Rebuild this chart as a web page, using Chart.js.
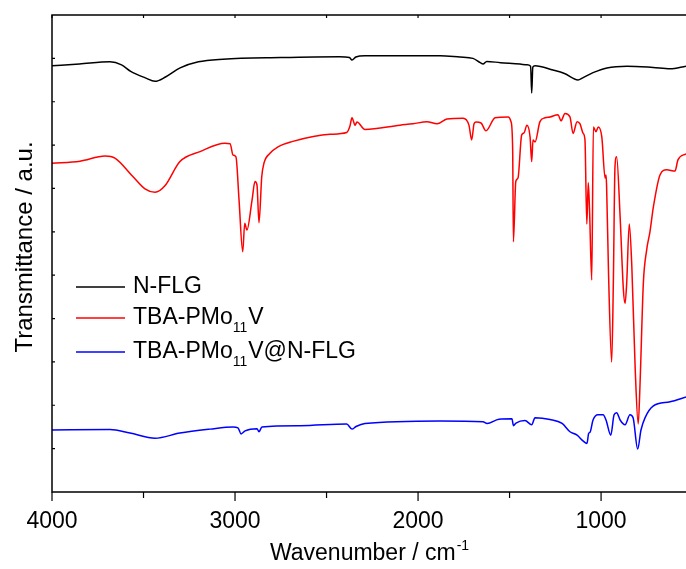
<!DOCTYPE html>
<html>
<head>
<meta charset="utf-8">
<script src="https://cdn.jsdelivr.net/npm/chart.js@4.4.1/dist/chart.umd.min.js"></script>
<style>
  body { margin: 0; background: #fff; }
  canvas { display: block; }
</style>
</head>
<body>
<canvas id="ftirChart" width="686" height="569"></canvas>
<script>
// Wavenumber (cm-1) and transmittance (a.u., offset stacked)
const nflgWn = [4000, 3850, 3683, 3620, 3570, 3490, 3437, 3380, 3300, 3200, 3066, 2750, 2430, 2375, 2361, 2340, 2290,
  1880, 1771, 1700, 1660, 1645, 1625, 1550, 1443, 1405, 1385, 1379, 1373, 1361, 1263, 1200, 1126, 1100, 1044, 968, 858, 716, 623, 536];
const nflgT = [98.3, 98.7, 99.2, 98.5, 97.0, 95.5, 94.7, 95.7, 97.8, 99.2, 99.8, 100.2, 100.4, 100.2, 99.6, 100.3, 100.6,
  100.6, 100.3, 100.0, 99.0, 98.7, 99.3, 99.0, 98.7, 98.5, 98.2, 92.0, 98.0, 98.3, 97.3, 96.5, 95.0, 95.5, 96.7, 97.8, 98.2, 97.9, 97.6, 98.2];

const tbaWn = [4000, 3847, 3710, 3656, 3557, 3492, 3437, 3383, 3301, 3191, 3055, 3027, 3011, 2995, 2978, 2958, 2947, 2935,
  2907, 2891, 2880, 2869, 2854, 2842, 2809, 2765, 2689, 2481, 2390, 2372, 2361, 2344, 2334, 2290, 2099, 2028, 1951, 1896,
  1842, 1754, 1722, 1707, 1694, 1683, 1656, 1629, 1579, 1508, 1492, 1483, 1479, 1466, 1454, 1434, 1421, 1405, 1388, 1379,
  1372, 1361, 1334, 1306, 1279, 1235, 1219, 1197, 1170, 1153, 1131, 1115, 1098, 1088, 1078, 1070, 1063, 1051, 1042, 1028,
  1015, 996, 978, 973, 970, 959, 942, 933, 924, 915, 896, 878, 869, 860, 846, 832, 814, 797, 787, 769, 751, 733, 714, 678,
  641, 596, 580, 536];
const tbaT = [75.8, 76.3, 77.5, 77.0, 72.7, 69.9, 69.1, 70.6, 76.2, 78.5, 80.4, 80.3, 77.7, 77.3, 67.3, 55.4, 62.0, 60.4,
  67.3, 71.6, 70.8, 62.1, 72.7, 75.8, 78.1, 79.6, 80.8, 82.5, 82.9, 84.4, 86.3, 84.6, 85.3, 83.6, 84.6, 84.9, 85.4, 84.9,
  86.0, 86.2, 84.6, 81.2, 84.9, 85.3, 85.1, 83.3, 86.3, 86.5, 85.4, 78.9, 57.7, 71.6, 72.4, 82.3, 82.8, 84.6, 81.9, 76.2,
  81.2, 80.7, 85.4, 86.3, 86.5, 87.0, 85.6, 87.3, 86.5, 82.7, 85.4, 84.9, 82.7, 81.2, 61.8, 71.3, 65.0, 48.9, 84.2, 83.1,
  84.2, 81.9, 72.4, 73.1, 70.8, 50.0, 30.0, 48.2, 75.0, 77.3, 63.5, 46.6, 43.5, 48.2, 61.8, 52.0, 28.9, 15.7, 25.1, 48.2,
  55.8, 60.0, 65.8, 73.1, 74.3, 74.0, 76.6, 78.0];

const hybWn = [4000, 3683, 3574, 3437, 3301, 3137, 3011, 2984, 2967, 2945, 2880, 2869, 2853, 2645, 2390, 2361, 2339, 2290,
  1880, 1645, 1623, 1558, 1487, 1479, 1465, 1416, 1379, 1361, 1279, 1213, 1170, 1131, 1099, 1077, 1068, 1060, 1044, 1017,
  989, 973, 947, 929, 915, 896, 869, 842, 825, 800, 782, 760, 716, 623, 536];
const hybT = [14.3, 14.4, 13.6, 12.4, 13.6, 14.5, 15.0, 14.8, 13.4, 14.1, 14.6, 13.9, 15.0, 15.3, 15.7, 14.5, 15.1, 15.8,
  16.4, 16.2, 15.8, 16.8, 16.9, 15.3, 15.9, 16.5, 15.5, 17.1, 16.7, 15.8, 13.9, 13.1, 11.8, 11.2, 13.5, 13.8, 16.6, 17.8,
  17.8, 16.6, 13.1, 17.8, 18.3, 16.6, 15.5, 17.8, 17.1, 9.9, 14.3, 17.1, 19.8, 20.8, 21.9];

const xTicks = [4000, 3500, 3000, 2500, 2000, 1500, 1000];
const yTicks = [10, 20, 30, 40, 50, 60, 70, 80, 90, 100];

const FONT = "'Liberation Sans', Arial, sans-serif";

function toPoints(wn, t) {
  return wn.map((w, i) => ({ x: w, y: t[i] }));
}

const legendRows = [
  { color: '#000000', parts: [['N-FLG', 0]] },
  { color: '#ff0000', parts: [['TBA-PMo', 0], ['11', 1], ['V', 0]] },
  { color: '#0000ff', parts: [['TBA-PMo', 0], ['11', 1], ['V@N-FLG', 0]] }
];

// frame, ticks, axis titles and legend
const decor = {
  id: 'decor',
  afterDraw(chart) {
    const { ctx, chartArea: a, scales: { x, y } } = chart;
    ctx.save();
    ctx.strokeStyle = '#000';
    ctx.lineWidth = 1.5;
    ctx.beginPath();
    ctx.moveTo(a.right + 2, a.top);
    ctx.lineTo(a.left, a.top);
    ctx.lineTo(a.left, a.bottom);
    ctx.lineTo(a.right + 2, a.bottom);
    ctx.stroke();

    ctx.lineWidth = 1.2;
    ctx.beginPath();
    xTicks.forEach(v => {
      const px = x.getPixelForValue(v);
      const len = v % 1000 === 0 ? 9 : 6;
      ctx.moveTo(px, a.bottom);
      ctx.lineTo(px, a.bottom + len);
      ctx.moveTo(px, a.top);
      ctx.lineTo(px, a.top + 3);
    });
    yTicks.forEach(v => {
      const py = y.getPixelForValue(v);
      ctx.moveTo(a.left, py);
      ctx.lineTo(a.left + 3, py);
    });
    ctx.stroke();

    ctx.fillStyle = '#000';
    // x title with superscript
    ctx.font = '23px ' + FONT;
    ctx.textBaseline = 'middle';
    const main = 'Wavenumber / cm';
    const mw = ctx.measureText(main).width;
    ctx.font = '14px ' + FONT;
    const sw = ctx.measureText('-1').width;
    let tx = (a.left + a.right) / 2 - (mw + sw) / 2;
    ctx.font = '23px ' + FONT;
    ctx.textAlign = 'left';
    ctx.fillText(main, tx, 554);
    ctx.font = '14px ' + FONT;
    ctx.fillText('-1', tx + mw + 1, 546);

    // y title
    ctx.save();
    ctx.translate(25, 247);
    ctx.rotate(-Math.PI / 2);
    ctx.font = '24px ' + FONT;
    ctx.textAlign = 'center';
    ctx.fillText('Transmittance / a.u.', 0, 0);
    ctx.restore();

    // legend
    const rowY = [287, 318, 352];
    legendRows.forEach((row, i) => {
      const ly = rowY[i];
      ctx.strokeStyle = row.color;
      ctx.lineWidth = 1.5;
      ctx.beginPath();
      ctx.moveTo(76, ly);
      ctx.lineTo(125, ly);
      ctx.stroke();
      let cx = 133;
      row.parts.forEach(([txt, sub]) => {
        ctx.font = (sub ? '14px ' : '23px ') + FONT;
        ctx.fillText(txt, cx, sub ? ly + 10 : ly);
        cx += ctx.measureText(txt).width + (sub ? 1 : 0);
      });
    });
    ctx.restore();
  }
};

const ctx = document.getElementById('ftirChart').getContext('2d');

const ftirChart = new Chart(ctx, {
  type: 'line',
  data: {
    datasets: [
      { label: 'N-FLG', data: toPoints(nflgWn, nflgT), borderColor: '#000000' },
      { label: 'TBA-PMo11V', data: toPoints(tbaWn, tbaT), borderColor: '#ff0000' },
      { label: 'TBA-PMo11V@N-FLG', data: toPoints(hybWn, hybT), borderColor: '#0000ff' }
    ]
  },
  options: {
    responsive: false,
    animation: false,
    devicePixelRatio: 1,
    layout: { padding: { left: 52, top: 15, right: 0, bottom: 0 } },
    elements: {
      point: { radius: 0 },
      line: { borderWidth: 1.5, cubicInterpolationMode: 'monotone', fill: false }
    },
    plugins: {
      legend: { display: false },
      tooltip: { enabled: false }
    },
    scales: {
      x: {
        type: 'linear',
        reverse: true,
        min: 536,
        max: 4000,
        grid: { display: false, drawTicks: false },
        border: { display: false },
        afterBuildTicks: s => { s.ticks = xTicks.filter(v => v % 1000 === 0).map(v => ({ value: v })); },
        ticks: {
          autoSkip: false,
          maxRotation: 0,
          padding: 16,
          color: '#000',
          font: { family: FONT, size: 23 },
          callback: v => String(v)
        },
        afterFit: s => { s.height = 77; s.paddingLeft = 0; s.paddingRight = 0; }
      },
      y: { display: false, min: 0, max: 110 }
    }
  },
  plugins: [decor]
});
</script>
</body>
</html>
